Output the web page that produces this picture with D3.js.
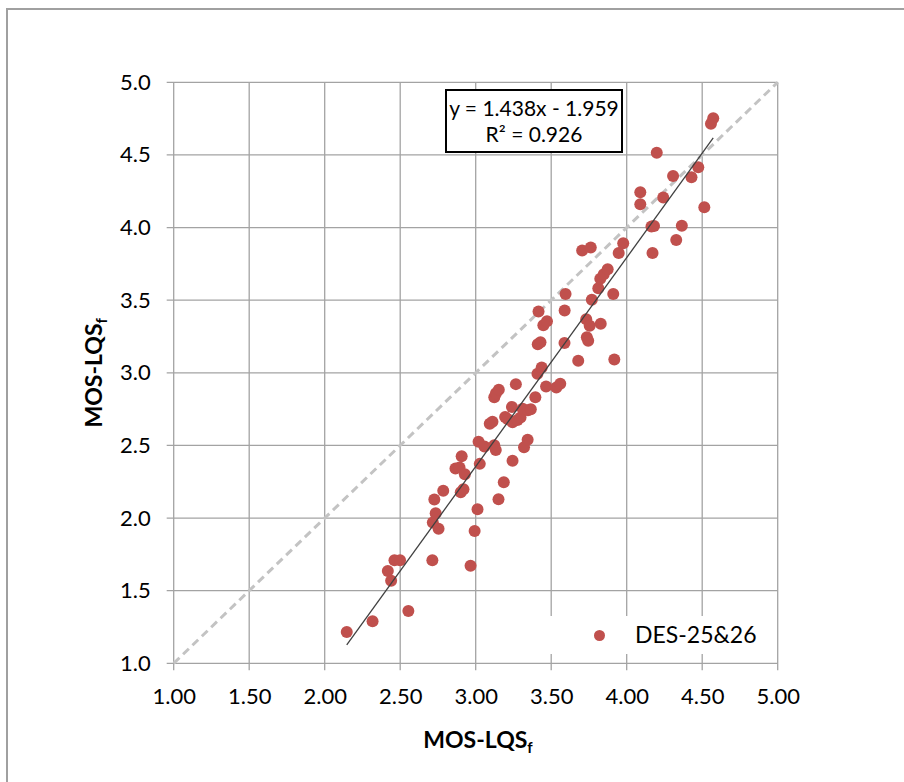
<!DOCTYPE html>
<html>
<head>
<meta charset="utf-8">
<script src="https://cdn.jsdelivr.net/npm/d3@7"></script>
<style>
  html, body { margin: 0; padding: 0; background: #ffffff; }
  svg { display: block; font-family: Lato, "Open Sans", "DejaVu Sans", sans-serif; }
</style>
</head>
<body>
<svg id="chart" width="904" height="782"></svg>
<script>
// ---- data ----
const seriesName = "DES-25&26";
const xValues = [2.146, 2.317, 2.554, 2.440, 2.418, 2.462, 2.499, 2.713, 2.966, 2.993,
  3.012, 2.716, 2.754, 2.735, 2.726, 2.785, 2.901, 2.919, 2.866, 2.893,
  2.928, 2.907, 3.027, 3.019, 3.058, 3.123, 3.133, 3.151, 3.186, 3.244,
  3.320, 3.344, 3.093, 3.111, 3.195, 3.213, 3.240, 3.244, 3.277, 3.297,
  3.311, 3.346, 3.365, 3.395, 3.123, 3.134, 3.153, 3.266, 3.466, 3.534,
  3.560, 3.409, 3.437, 3.679, 3.918, 3.411, 3.429, 3.588, 3.736, 3.745,
  3.448, 3.472, 3.732, 3.755, 3.828, 3.416, 3.589, 3.595, 3.769, 3.911,
  3.812, 3.825, 3.848, 3.874, 3.947, 3.705, 3.762, 3.977, 4.171, 4.328,
  4.365, 4.164, 4.181, 4.514, 4.090, 4.090, 4.242, 4.307, 4.429, 4.474,
  4.199, 4.558, 4.573];
const yValues = [1.215, 1.290, 1.360, 1.569, 1.635, 1.709, 1.709, 1.709, 1.672, 1.911,
  2.061, 1.969, 1.927, 2.033, 2.128, 2.188, 2.177, 2.199, 2.341, 2.348,
  2.302, 2.426, 2.373, 2.526, 2.492, 2.502, 2.469, 2.130, 2.247, 2.394,
  2.487, 2.539, 2.650, 2.663, 2.696, 2.681, 2.765, 2.659, 2.675, 2.692,
  2.752, 2.742, 2.749, 2.831, 2.832, 2.859, 2.884, 2.922, 2.906, 2.899,
  2.925, 2.994, 3.036, 3.083, 3.092, 3.197, 3.211, 3.205, 3.244, 3.221,
  3.328, 3.355, 3.368, 3.324, 3.338, 3.422, 3.429, 3.542, 3.503, 3.542,
  3.582, 3.647, 3.678, 3.713, 3.825, 3.842, 3.863, 3.892, 3.825, 3.914,
  4.012, 4.007, 4.011, 4.139, 4.161, 4.243, 4.207, 4.355, 4.347, 4.415,
  4.515, 4.714, 4.753];
const xTickValues = [1.0, 1.5, 2.0, 2.5, 3.0, 3.5, 4.0, 4.5, 5.0];
const xTickLabels = ["1.00", "1.50", "2.00", "2.50", "3.00", "3.50", "4.00", "4.50", "5.00"];
const yTickValues = [1.0, 1.5, 2.0, 2.5, 3.0, 3.5, 4.0, 4.5, 5.0];
const yTickLabels = ["1.0", "1.5", "2.0", "2.5", "3.0", "3.5", "4.0", "4.5", "5.0"];
const trendSlope = 1.438;
const trendIntercept = -1.959;
const trendLabel = "y = 1.438x - 1.959";
const r2Label = "R² = 0.926";
const axisTitle = "MOS-LQS";
const axisTitleSub = "f";

// ---- layout ----
const svg = d3.select("#chart");
const plot = { left: 173.7, right: 777.7, top: 82.3, bottom: 663.3 };
const x = d3.scaleLinear().domain([1, 5]).range([plot.left, plot.right]);
const y = d3.scaleLinear().domain([1, 5]).range([plot.bottom, plot.top]);
const gridColor = "#a3a3a3";
const markColor = "#c0504d";

// outer border (right/bottom edges fall outside the picture)
svg.append("rect").attr("x", 7).attr("y", 9).attr("width", 960).attr("height", 900)
  .attr("fill", "none").attr("stroke", "#a0a0a0").attr("stroke-width", 2);

// grid
const g = svg.append("g");
g.append("g").selectAll("line").data(xTickValues).join("line")
  .attr("x1", d => x(d)).attr("x2", d => x(d))
  .attr("y1", plot.top).attr("y2", plot.bottom + 7)
  .attr("stroke", gridColor).attr("stroke-width", 1.3);
g.append("g").selectAll("line").data(yTickValues).join("line")
  .attr("x1", plot.left - 7).attr("x2", plot.right)
  .attr("y1", d => y(d)).attr("y2", d => y(d))
  .attr("stroke", gridColor).attr("stroke-width", 1.3);

// axis labels via d3 axes (grid drawn separately)
const xAxis = d3.axisBottom(x).tickValues(xTickValues)
  .tickFormat((d, i) => xTickLabels[i]).tickSize(0).tickPadding(25);
const xg = svg.append("g").attr("transform", `translate(0,${plot.bottom})`).call(xAxis);
xg.select(".domain").remove();
xg.selectAll("text").attr("font-size", 22).attr("fill", "#000")
  .attr("font-family", "Lato, sans-serif");

const yAxis = d3.axisLeft(y).tickValues(yTickValues)
  .tickFormat((d, i) => yTickLabels[i]).tickSize(0).tickPadding(23);
const yg = svg.append("g").attr("transform", `translate(${plot.left},0)`).call(yAxis);
yg.select(".domain").remove();
yg.selectAll("text").attr("font-size", 22).attr("fill", "#000")
  .attr("font-family", "Lato, sans-serif");

// legend background (covers grid)
const legendBox = { x: 520, y: 616, w: 255, h: 38 };
svg.append("rect").attr("x", legendBox.x).attr("y", legendBox.y)
  .attr("width", legendBox.w).attr("height", legendBox.h).attr("fill", "#fff");

// y = x reference
svg.append("line")
  .attr("x1", x(1)).attr("y1", y(1)).attr("x2", x(5)).attr("y2", y(5))
  .attr("stroke", "#c3c3c3").attr("stroke-width", 3).attr("stroke-dasharray", "8,5");

// points
svg.append("g").selectAll("circle").data(xValues.map((v, i) => [v, yValues[i]])).join("circle")
  .attr("cx", d => x(d[0])).attr("cy", d => y(d[1])).attr("r", 6)
  .attr("fill", markColor);

// trendline
const xmin = d3.min(xValues), xmax = d3.max(xValues);
svg.append("line")
  .attr("x1", x(xmin)).attr("y1", y(trendSlope * xmin + trendIntercept))
  .attr("x2", x(xmax)).attr("y2", y(trendSlope * xmax + trendIntercept))
  .attr("stroke", "#404040").attr("stroke-width", 1.3);

// trend label box
svg.append("rect").attr("x", 446).attr("y", 90).attr("width", 176).attr("height", 62)
  .attr("fill", "#fff").attr("stroke", "#000").attr("stroke-width", 2);
svg.append("text").attr("x", 534).attr("y", 116).attr("text-anchor", "middle")
  .attr("font-size", 21).text(trendLabel);
svg.append("text").attr("x", 534).attr("y", 142).attr("text-anchor", "middle")
  .attr("font-size", 21).text(r2Label);

// legend
svg.append("circle").attr("cx", 599.5).attr("cy", 635.5).attr("r", 5.5).attr("fill", markColor);
svg.append("text").attr("x", 635).attr("y", 643).attr("font-size", 23).text(seriesName);

// axis titles
const xt = svg.append("text").attr("x", 478).attr("y", 748).attr("text-anchor", "middle")
  .attr("font-size", 23).attr("font-weight", "bold");
xt.append("tspan").text(axisTitle);
xt.append("tspan").attr("font-size", 15).attr("dy", 5).text(axisTitleSub);

const yt = svg.append("text")
  .attr("transform", `translate(102,${(plot.top + plot.bottom) / 2}) rotate(-90)`)
  .attr("text-anchor", "middle").attr("font-size", 23).attr("font-weight", "bold");
yt.append("tspan").text(axisTitle);
yt.append("tspan").attr("font-size", 15).attr("dy", 5).text(axisTitleSub);
</script>
</body>
</html>
